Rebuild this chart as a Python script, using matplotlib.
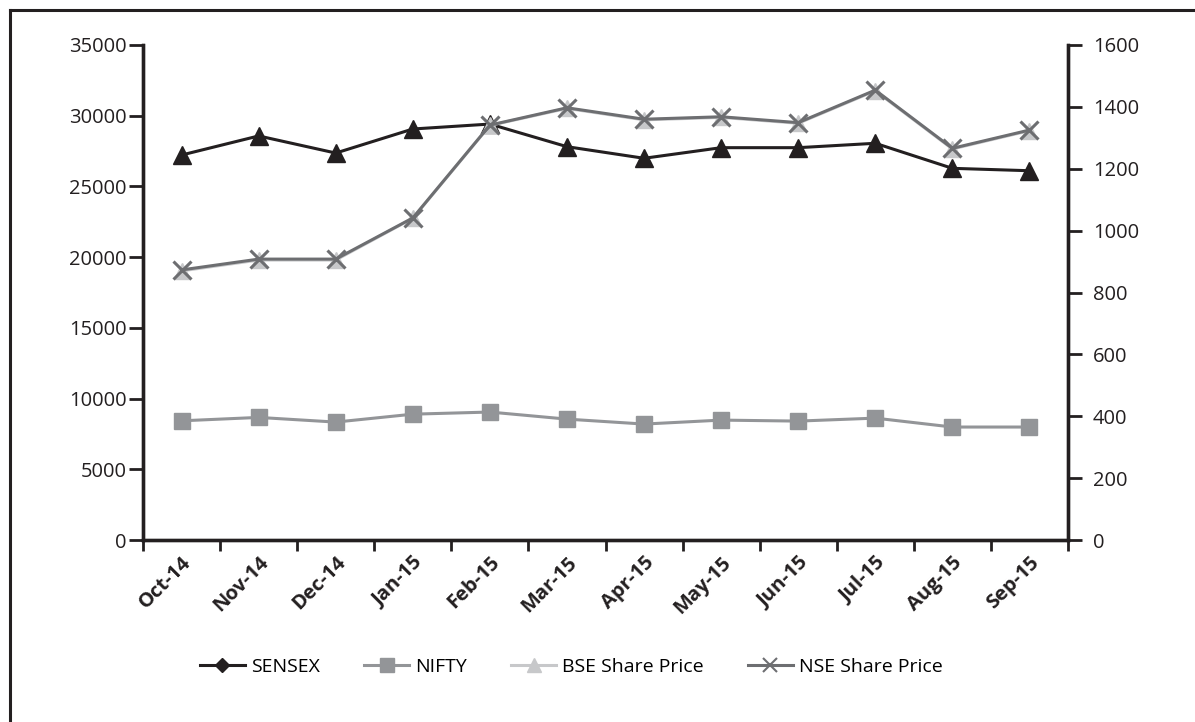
import matplotlib
matplotlib.use("Agg")
import matplotlib.pyplot as plt
from matplotlib.lines import Line2D

# --- Data ---
months = ["Oct-14", "Nov-14", "Dec-14", "Jan-15", "Feb-15", "Mar-15",
          "Apr-15", "May-15", "Jun-15", "Jul-15", "Aug-15", "Sep-15"]
sensex = [27220, 28570, 27360, 29060, 29410, 27810,
          26990, 27740, 27740, 28050, 26280, 26110]
nifty = [8430, 8670, 8340, 8900, 9050, 8550,
         8200, 8480, 8410, 8620, 7990, 7990]
bse_price = [870, 905, 905, 1040, 1340, 1395,
             1358, 1366, 1347, 1452, 1264, 1323]
nse_price = [873, 908, 908, 1041, 1341, 1397,
             1360, 1368, 1349, 1454, 1266, 1325]

# colours
c_sensex = "#231f20"
c_nifty = "#939598"
c_bse = "#c7c8ca"
c_nse = "#6d6e71"

plt.rcParams["font.family"] = ["Open Sans", "DejaVu Sans"]

fig = plt.figure(figsize=(11.95, 7.22), dpi=100)
ax = fig.add_axes([0.1197, 0.252, 0.7740, 0.6857])
ax2 = ax.twinx()

x = list(range(len(months)))

ax.plot(x, sensex, color=c_sensex, lw=2.2, marker="^", ms=13, zorder=3)
ax.plot(x, nifty, color=c_nifty, lw=2.2, marker="s", ms=12, zorder=3)
ax2.plot(x, bse_price, color=c_bse, lw=2.2, marker="^", ms=11, zorder=3)
ax2.plot(x, nse_price, color=c_nse, lw=2.2, marker="x", ms=13, mew=2.2, zorder=4)

# axes ranges and ticks
ax.set_ylim(0, 35000)
ax.set_yticks(range(0, 35001, 5000))
ax2.set_ylim(0, 1600)
ax2.set_yticks(range(0, 1601, 200))
ax.set_xlim(-0.5, len(months) - 0.5)

ax.set_xticks([i - 0.5 for i in range(len(months) + 1)])
ax.set_xticklabels([])
ax.set_xticks(x, minor=True)
ax.set_xticklabels(months, minor=True, rotation=45, ha="right",
                   rotation_mode="anchor", fontsize=14.5, fontweight="bold",
                   color="#231f20")
ax.tick_params(axis="x", which="minor", length=0, pad=9)
ax.tick_params(axis="x", which="major", length=8, width=2, direction="out",
               color="#231f20")
ax.tick_params(axis="y", length=10, width=2, labelsize=14.5,
               labelcolor="#231f20", color="#231f20", pad=2)
ax2.tick_params(axis="y", length=10, width=2, labelsize=14.5,
                labelcolor="#231f20", color="#231f20", pad=8)

for a in (ax, ax2):
    a.spines["top"].set_visible(False)
    for s in ("left", "right", "bottom"):
        a.spines[s].set_linewidth(2.4)
        a.spines[s].set_color("#231f20")

# legend
handles = [
    Line2D([], [], color=c_sensex, lw=2.2, marker="D", ms=7),
    Line2D([], [], color=c_nifty, lw=2.2, marker="s", ms=10),
    Line2D([], [], color=c_bse, lw=2.2, marker="^", ms=10),
    Line2D([], [], color=c_nse, lw=2.2, marker="x", ms=10, mew=1.5),
]
labels = ["SENSEX", "NIFTY", "BSE Share Price", "NSE Share Price"]
fig.legend(handles, labels, loc="center", bbox_to_anchor=(0.478, 0.076),
           ncol=4, frameon=False, fontsize=14, handlelength=2.3,
           handletextpad=0.3, columnspacing=2.3)

# outer frame (left and top edges only)
fig.add_artist(Line2D([0.008, 0.008], [0.0, 0.986], transform=fig.transFigure,
                      color="#231f20", lw=2.2))
fig.add_artist(Line2D([0.008, 1.0], [0.986, 0.986], transform=fig.transFigure,
                      color="#231f20", lw=2.2))

fig.savefig("out.png", dpi=100)
